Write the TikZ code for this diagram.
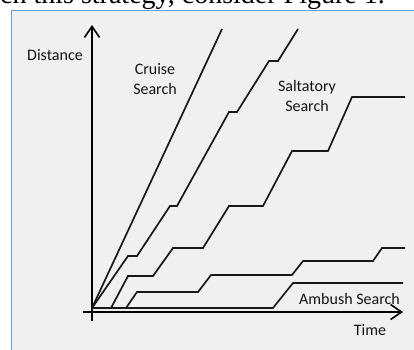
\documentclass[tikz,border=0pt]{standalone}
\usepackage{fontspec}
\setmainfont{Carlito}
\newfontfamily\bodyserif{Liberation Serif}
\usetikzlibrary{arrows.meta}
\definecolor{framebg}{RGB}{240,240,240}
\definecolor{frameline}{RGB}{104,160,214}
\tikzset{
  lbl/.style={font=\fontsize{16bp}{19.5bp}\selectfont, inner sep=0pt, align=center, text=black!92},
  curve/.style={line width=1.7bp, black!90, line join=miter},
  axis/.style={line width=2bp, black, -{Straight Barb[length=11bp,width=15bp,line width=1.6bp]}}
}
\begin{document}
\begin{tikzpicture}[x=1bp,y=-1bp]
\useasboundingbox (0,0) rectangle (414,350);
\clip (0,0) rectangle (414,350);
\fill[white] (0,0) rectangle (414,350);
% cut-off line of body text above the figure
\node[anchor=base east, inner sep=0pt, font=\bodyserif\fontsize{28bp}{30bp}\selectfont] (body) at (385,3) {ach this strategy, consider Figure 1.};
% figure frame
\filldraw[fill=framebg, draw=frameline, line width=1bp] (11,10) rectangle (430,370);
% axes
\coordinate (ytop) at (92,25);
\coordinate (ybot) at (92,321);
\coordinate (xleft) at (83,312);
\coordinate (xright) at (403,312);
\draw[axis] (ybot) -- (ytop);
\draw[axis] (xleft) -- (xright);
% curves
\draw[curve] (92,308) -- (222,29);
\draw[curve] (92,308) -- (128,256) -- (137,256) -- (170,206) -- (177,206) -- (229,112) -- (237,112) -- (269,61) -- (278,61) -- (298,29);
\draw[curve] (111,308) -- (128,276) -- (153,276) -- (173,248) -- (203,248) -- (229,206) -- (263,206) -- (292,151) -- (328,151) -- (352,97) -- (405,97);
\draw[curve] (126,308) -- (137,292) -- (198,292) -- (211,275) -- (292,275) -- (303,261) -- (373,261) -- (382,248) -- (405,248);
\draw[curve] (92,308) -- (273,308) -- (293,283) -- (403,283);
% labels
\node[lbl, anchor=base] (dist) at (55,60) {Distance};
\node[lbl, anchor=base] (cruise) at (155,94) {Cruise\\Search};
\node[lbl, anchor=base] (salt) at (307,111) {Saltatory\\Search};
\node[lbl, anchor=base] (amb) at (349.5,304) {Ambush Search};
\node[lbl, anchor=base] (time) at (370,335) {Time};
\end{tikzpicture}
\end{document}
